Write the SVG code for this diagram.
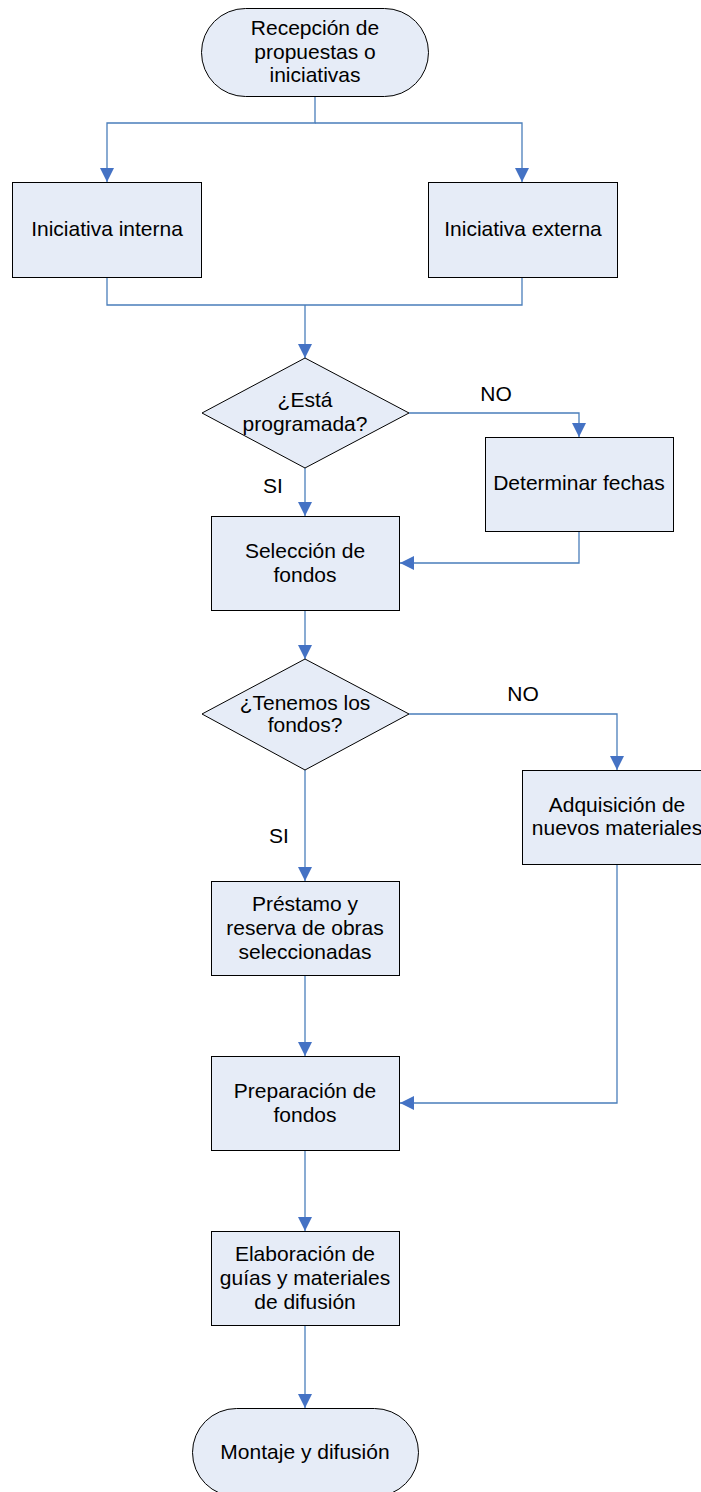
<svg xmlns="http://www.w3.org/2000/svg" width="701" height="1492" viewBox="0 0 701 1492">
<style>
.n{fill:#e6ecf7;stroke:#000;stroke-width:1}
.t{font-family:"Liberation Sans",Arial,sans-serif;font-size:21px;fill:#000;text-anchor:middle}
.c{fill:none;stroke:#4a7ebb;stroke-width:1.3}
</style>
<defs>
<marker id="a" markerUnits="userSpaceOnUse" markerWidth="15" markerHeight="15" viewBox="0 0 15 15" refX="14" refY="7.5" orient="auto">
<path d="M0,0.5 L14,7.5 L0,14.5 Z" fill="#4472c4"/>
</marker>
</defs>
<rect width="701" height="1492" fill="#fff"/>
<g id="connectors">
<path class="c" d="M315,96 V123 H107 V182" marker-end="url(#a)"/>
<path class="c" d="M315,123 H522 V182" marker-end="url(#a)"/>
<path class="c" d="M107,277 V305 H522 V277"/>
<path class="c" d="M305,305 V358" marker-end="url(#a)"/>
<path class="c" d="M409,413 H579 V437" marker-end="url(#a)"/>
<path class="c" d="M579,532 V563 H400" marker-end="url(#a)"/>
<path class="c" d="M305,468 V516" marker-end="url(#a)"/>
<path class="c" d="M305,611 V659" marker-end="url(#a)"/>
<path class="c" d="M409,714 H617 V770" marker-end="url(#a)"/>
<path class="c" d="M617,865 V1103 H400" marker-end="url(#a)"/>
<path class="c" d="M305,770 V881" marker-end="url(#a)"/>
<path class="c" d="M305,976 V1056" marker-end="url(#a)"/>
<path class="c" d="M305,1151 V1231" marker-end="url(#a)"/>
<path class="c" d="M305,1326 V1408" marker-end="url(#a)"/>
<text class="t" x="496" y="401">NO</text>
<text class="t" x="273" y="493">SI</text>
<text class="t" x="523" y="701">NO</text>
<text class="t" x="279" y="843">SI</text>
</g>
<g id="recepcion">
<rect class="n" x="201.5" y="8.5" width="227" height="88" rx="44" ry="44"/>
<text class="t" x="315" y="35">Recepción de</text>
<text class="t" x="315" y="58.5">propuestas o</text>
<text class="t" x="315" y="82">iniciativas</text>
</g>
<g id="interna">
<rect class="n" x="12.5" y="182.5" width="189" height="95"/>
<text class="t" x="107" y="236">Iniciativa interna</text>
</g>
<g id="externa">
<rect class="n" x="428.5" y="182.5" width="189" height="95"/>
<text class="t" x="523" y="236">Iniciativa externa</text>
</g>
<g id="programada">
<polygon class="n" points="305,358 409,413 305,468 202,413"/>
<text class="t" x="305" y="407">¿Está</text>
<text class="t" x="305" y="431">programada?</text>
</g>
<g id="fechas">
<rect class="n" x="485.5" y="437.5" width="188" height="94"/>
<text class="t" x="579" y="490">Determinar fechas</text>
</g>
<g id="seleccion">
<rect class="n" x="211.5" y="516.5" width="188" height="94"/>
<text class="t" x="305" y="558">Selección de</text>
<text class="t" x="305" y="582">fondos</text>
</g>
<g id="tenemos">
<polygon class="n" points="305,659 409,714 305,770 202,714"/>
<text class="t" x="305" y="710">¿Tenemos los</text>
<text class="t" x="305" y="732">fondos?</text>
</g>
<g id="adquisicion">
<rect class="n" x="522.5" y="770.5" width="189" height="94"/>
<text class="t" x="617" y="812">Adquisición de</text>
<text class="t" x="617" y="835">nuevos materiales</text>
</g>
<g id="prestamo">
<rect class="n" x="211.5" y="881.5" width="188" height="94"/>
<text class="t" x="305" y="911">Préstamo y</text>
<text class="t" x="305" y="935">reserva de obras</text>
<text class="t" x="305" y="959">seleccionadas</text>
</g>
<g id="preparacion">
<rect class="n" x="211.5" y="1056.5" width="188" height="94"/>
<text class="t" x="305" y="1098">Preparación de</text>
<text class="t" x="305" y="1122">fondos</text>
</g>
<g id="elaboracion">
<rect class="n" x="211.5" y="1231.5" width="188" height="94"/>
<text class="t" x="305" y="1261">Elaboración de</text>
<text class="t" x="305" y="1285">guías y materiales</text>
<text class="t" x="305" y="1309">de difusión</text>
</g>
<g id="montaje">
<rect class="n" x="192.5" y="1408.5" width="226" height="88" rx="44" ry="44"/>
<text class="t" x="305" y="1459">Montaje y difusión</text>
</g>
</svg>
